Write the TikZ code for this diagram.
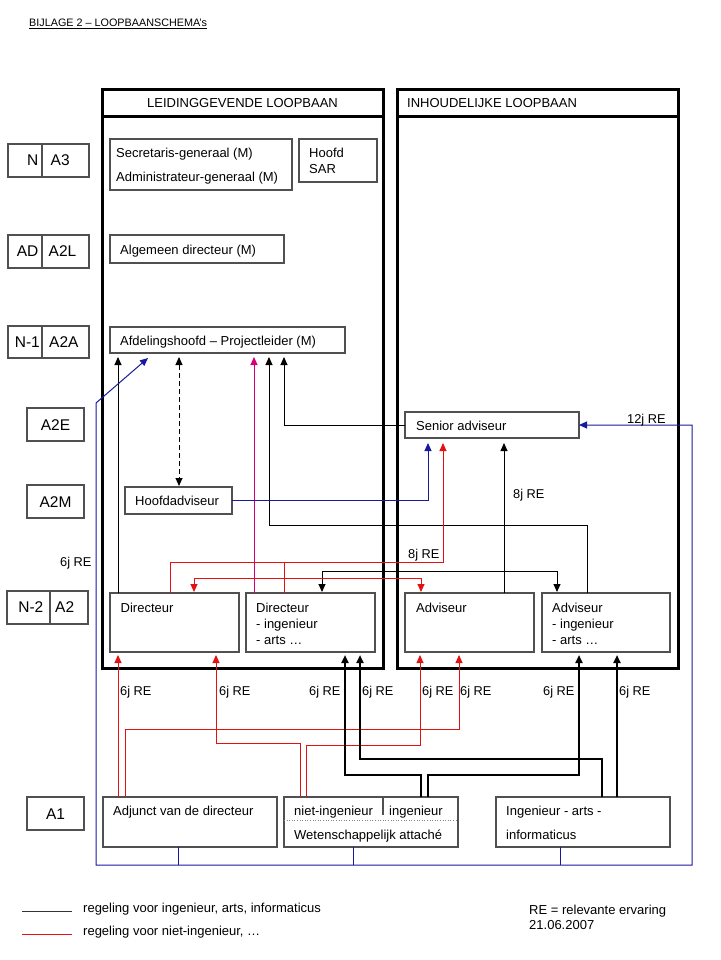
\documentclass[tikz,border=0pt]{standalone}
\usepackage{fontspec}
\setmainfont{Liberation Sans}
\usetikzlibrary{arrows.meta,calc}
\definecolor{myred}{RGB}{226,18,18}
\definecolor{myblue}{RGB}{25,25,160}
\definecolor{mymag}{RGB}{215,0,120}
\definecolor{boxgray}{RGB}{80,80,80}
\begin{document}
\begin{tikzpicture}[x=1pt,y=-1pt,
  box/.style={draw=boxgray,line width=1.1pt,anchor=north west,inner sep=0pt,outer sep=0pt},
  panel/.style={draw=black,line width=3pt,anchor=north west,inner sep=0pt,outer sep=0pt},
  txt/.style={anchor=base west,inner sep=0pt,font=\fontsize{13}{15}\selectfont},
  lbl/.style={anchor=base west,inner sep=0pt,font=\fontsize{12.8}{15}\selectfont},
  lvl/.style={inner sep=0pt,font=\fontsize{15.5}{18}\selectfont},
  tip/.style={-{Triangle[length=8pt,width=7pt]}},
  tipboth/.style={{Triangle[length=8pt,width=7pt]}-{Triangle[length=8pt,width=7pt]}},
  blk/.style={draw=black,line width=0.9pt},
  thk/.style={draw=black,line width=2.6pt},
  rd/.style={draw=myred,line width=0.9pt},
  blu/.style={draw=myblue,line width=1pt},
  mag/.style={draw=mymag,line width=0.9pt}
]
\useasboundingbox (0,0) rectangle (720,960);

% title
\node[anchor=base west,inner sep=0pt,font=\fontsize{10.8}{12}\selectfont] (title) at (29,27) {\underline{BIJLAGE 2 – LOOPBAANSCHEMA's}};

% panels
\node[panel,minimum width=281pt,minimum height=578pt] (lp) at (102,90) {};
\node[panel,minimum width=281pt,minimum height=578pt] (rp) at (397,90) {};
\draw[line width=3pt] ($(lp.north west)+(0,27)$) -- ($(lp.north east)+(0,27)$);
\draw[line width=3pt] ($(rp.north west)+(0,27)$) -- ($(rp.north east)+(0,27)$);
\node[txt,anchor=base] (lph) at (242.5,108) {LEIDINGGEVENDE LOOPBAAN};
\node[txt] (rph) at (407,108) {INHOUDELIJKE LOOPBAAN};

% level boxes
\node[box,minimum width=81pt,minimum height=33pt] (lvN) at (8,144) {};
\draw[boxgray,line width=1.1pt] ($(lvN.north west)+(34,0)$) -- ($(lvN.south west)+(34,0)$);
\node[lvl,anchor=base east] (lvNa) at (38.5,165) {N};
\node[lvl,anchor=base west] (lvNb) at (50.5,165) {A3};

\node[box,minimum width=81pt,minimum height=33pt] (lvAD) at (8,235) {};
\draw[boxgray,line width=1.1pt] ($(lvAD.north west)+(34,0)$) -- ($(lvAD.south west)+(34,0)$);
\node[lvl,anchor=base east] (lvADa) at (38.5,256) {AD};
\node[lvl,anchor=base west] (lvADb) at (48.5,256) {A2L};

\node[box,minimum width=81pt,minimum height=32pt] (lvNi) at (8,326) {};
\draw[boxgray,line width=1.1pt] ($(lvNi.north west)+(34,0)$) -- ($(lvNi.south west)+(34,0)$);
\node[lvl,anchor=base east] (lvNia) at (40,347) {N-1};
\node[lvl,anchor=base west] (lvNib) at (49,347) {A2A};

\node[box,minimum width=57pt,minimum height=33pt] (lvE) at (27,408) {};
\node[lvl,anchor=base] (lvEa) at (55.5,430) {A2E};
\node[box,minimum width=57pt,minimum height=33pt] (lvM) at (27,485) {};
\node[lvl,anchor=base] (lvMa) at (55.5,507) {A2M};

\node[box,minimum width=81pt,minimum height=33pt] (lvNii) at (7,591) {};
\draw[boxgray,line width=1.1pt] ($(lvNii.north west)+(43,0)$) -- ($(lvNii.south west)+(43,0)$);
\node[lvl,anchor=base east] (lvNiia) at (43.5,612) {N-2};
\node[lvl,anchor=base west] (lvNiib) at (55,612) {A2};

\node[box,minimum width=57pt,minimum height=33pt] (lvA) at (27,797) {};
\node[lvl,anchor=base] (lvAa) at (55.5,819) {A1};

% function boxes
\node[box,minimum width=182pt,minimum height=51pt] (sg) at (110,139) {};
\node[txt] (sgt1) at (116,158) {Secretaris-generaal (M)};
\node[txt] (sgt2) at (116,182) {Administrateur-generaal (M)};
\node[box,minimum width=78pt,minimum height=43pt] (sar) at (299,139) {};
\node[txt] (sart1) at (309,158) {Hoofd};
\node[txt] (sart2) at (309,174) {SAR};
\node[box,minimum width=174pt,minimum height=28pt] (ad) at (110,235) {};
\node[txt] (adt) at (120,254) {Algemeen directeur (M)};
\node[box,minimum width=235pt,minimum height=26pt] (aph) at (110,327) {};
\node[txt] (apht) at (120,345) {Afdelingshoofd – Projectleider (M)};
\node[box,minimum width=107pt,minimum height=27pt] (hadv) at (125,487) {};
\node[txt] (hadvt) at (135,505) {Hoofdadviseur};
\node[box,minimum width=174pt,minimum height=26pt] (sadv) at (405,412) {};
\node[txt] (sadvt) at (416,430) {Senior adviseur};

\node[box,minimum width=129pt,minimum height=59pt] (dir) at (110,593) {};
\node[txt] (dirt) at (120.5,612) {Directeur};
\node[box,minimum width=129pt,minimum height=59pt] (diri) at (246,593) {};
\node[txt] (dirit1) at (256,612) {Directeur};
\node[txt] (dirit2) at (256,628) {- ingenieur};
\node[txt] (dirit3) at (256,644) {- arts …};
\node[box,minimum width=129pt,minimum height=59pt] (adv) at (405,593) {};
\node[txt] (advt) at (416,612) {Adviseur};
\node[box,minimum width=128pt,minimum height=59pt] (advi) at (542,593) {};
\node[txt] (advit1) at (552,612) {Adviseur};
\node[txt] (advit2) at (552,628) {- ingenieur};
\node[txt] (advit3) at (552,644) {- arts …};

\node[box,minimum width=174pt,minimum height=50pt] (adj) at (103,797) {};
\node[txt] (adjt) at (113,815) {Adjunct van de directeur};
\node[box,minimum width=174pt,minimum height=50pt] (wet) at (284,797) {};
\draw[boxgray,line width=1.1pt] ($(wet.north west)+(99,0)$) -- ($(wet.north west)+(99,18)$);
\draw[boxgray!70,line width=0.6pt,dotted] ($(wet.north west)+(0,23)$) -- ($(wet.north east)+(0,23)$);
\node[txt] (wett1) at (294,815) {niet-ingenieur};
\node[txt] (wett2) at (389,815) {ingenieur};
\node[txt] (wett3) at (294,839) {Wetenschappelijk attaché};
\node[box,minimum width=174pt,minimum height=50pt] (ing) at (496,797) {};
\node[txt] (ingt1) at (506,815) {Ingenieur - arts -};
\node[txt] (ingt2) at (506,839) {informaticus};

% connectors to Afdelingshoofd
\draw[blk,tip] ($(dir.north west)+(8,0)$) -- ($(aph.south west)+(8,4)$);
\draw[mag,tip] ($(diri.north west)+(8,0)$) -- ($(aph.south west)+(144,4)$);
\draw[blk,tip] (sadv.west) -| ($(aph.south west)+(174,4)$);
\draw[blk,tip] ($(advi.north west)+(45,0)$) |- ($(aph.south west)+(159,172)$) -- ($(aph.south west)+(159,4)$);
\draw[blk,dash pattern=on 5pt off 3pt,tipboth] ($(aph.south west)+(69,4)$) -- ($(hadv.north west)+(54,-1)$);

% blue
\draw[blu,tip] (hadv.east) -| ($(sadv.south west)+(23,5)$);
\coordinate (bl1) at (96,403);
\coordinate (bl2) at (96,865);
\coordinate (bl3) at (692,865);
\draw[blu,tipboth] ($(aph.south west)+(38,5)$) -- (bl1) -- (bl2) -- (bl3) |- (sadv.east);
\draw[blu] ($(adj.south west)+(75,0)$) -- ($(adj.south west)+(75,18)$);
\draw[blu] ($(wet.south west)+(69,0)$) -- ($(wet.south west)+(69,18)$);
\draw[blu] ($(ing.south west)+(64,0)$) -- ($(ing.south west)+(64,18)$);

% to senior adviseur / between N-2 boxes
\draw[blk,tip] ($(adv.north west)+(99,0)$) -- ($(sadv.south west)+(99,5)$);
\draw[blk,tipboth] ($(diri.north west)+(76,-1)$) -- ++(0,-21) -| ($(advi.north west)+(15,-1)$);
\draw[rd,tip] ($(dir.north west)+(60,0)$) -- ++(0,-31) -| ($(sadv.south west)+(38,5)$);
\draw[rd] ($(diri.north west)+(38,0)$) -- ++(0,-31);
\draw[rd,tipboth] ($(dir.north west)+(84,-1)$) -- ++(0,-14) -| ($(adv.north west)+(16,-1)$);

% from A1 boxes
\draw[rd,tip] ($(adj.north west)+(15,0)$) -- ($(dir.south west)+(8,3)$);
\draw[rd,tip] ($(adj.north west)+(22,0)$) -- ++(0,-68) -| ($(adv.south west)+(54,3)$);
\draw[rd,tip] ($(wet.north west)+(16,0)$) -- ++(0,-54) -| ($(dir.south west)+(106,3)$);
\draw[rd,tip] ($(wet.north west)+(22,0)$) -- ++(0,-52) -| ($(adv.south west)+(15,3)$);
\draw[thk,tip] ($(wet.north west)+(137,0)$) -- ++(0,-22) -| ($(diri.south west)+(99,3)$);
\draw[thk,tip] ($(wet.north west)+(144,0)$) -- ++(0,-22) -| ($(advi.south west)+(37,3)$);
\draw[thk,tip] ($(ing.north west)+(106,0)$) -- ++(0,-38) -| ($(diri.south west)+(114,3)$);
\draw[thk,tip] ($(ing.north west)+(121,0)$) -- ($(advi.south west)+(75,3)$);

% labels
\node[lbl] (l12) at (627,423) {12j RE};
\node[lbl] (l8a) at (513,498) {8j RE};
\node[lbl] (l8b) at (408,558) {8j RE};
\node[lbl] (l6a) at (60,566) {6j RE};
\node[lbl] (l6b) at (120,695) {6j RE};
\node[lbl] (l6c) at (219,695) {6j RE};
\node[lbl] (l6d) at (309,695) {6j RE};
\node[lbl] (l6e) at (362,695) {6j RE};
\node[lbl] (l6f) at (422,695) {6j RE};
\node[lbl] (l6g) at (460,695) {6j RE};
\node[lbl] (l6h) at (543,695) {6j RE};
\node[lbl] (l6i) at (619,695) {6j RE};

% legend
\coordinate (lg1a) at (22,911);
\coordinate (lg1b) at (72,911);
\coordinate (lg2a) at (22,934);
\coordinate (lg2b) at (72,934);
\draw[draw=black!80,line width=0.9pt] (lg1a) -- (lg1b);
\draw[rd] (lg2a) -- (lg2b);
\node[txt] (lgt1) at (83,912) {regeling voor ingenieur, arts, informaticus};
\node[txt] (lgt2) at (83,935) {regeling voor niet-ingenieur, …};
\node[txt] (ret) at (529,914) {RE = relevante ervaring};
\node[txt] (date) at (529,929) {21.06.2007};
\end{tikzpicture}
\end{document}
